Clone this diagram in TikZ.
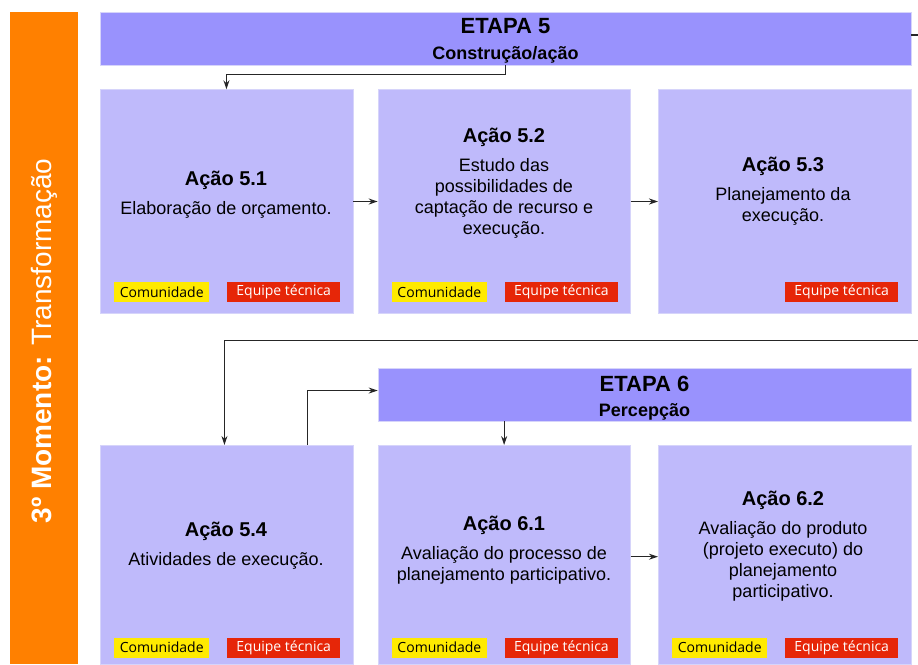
\documentclass[tikz,border=0pt]{standalone}
\usepackage{fontspec}
\setmainfont{Liberation Sans}
\newfontfamily\tagfont{Open Sans}
\usetikzlibrary{arrows.meta}

\definecolor{laranja}{RGB}{255,128,0}
\definecolor{etapacor}{RGB}{153,146,253}
\definecolor{acaocor}{RGB}{191,186,251}
\definecolor{bordacor}{RGB}{214,212,250}
\definecolor{amarelo}{RGB}{255,234,0}
\definecolor{vermelho}{RGB}{230,38,8}

\tikzset{
  etapa/.style={fill=etapacor,draw=bordacor,inner sep=0,anchor=north west},
  acao/.style={fill=acaocor,draw=bordacor,inner sep=0,anchor=north west},
  texto/.style={align=center,inner sep=0,font=\fontsize{18}{21}\selectfont},
  comun/.style={fill=amarelo,text=black,inner sep=0,anchor=north west,
    minimum width=95pt,minimum height=20pt,font=\tagfont\fontsize{14}{16}\selectfont},
  equipe/.style={fill=vermelho,text=white,inner sep=0,anchor=north west,
    minimum width=113pt,minimum height=20pt,font=\tagfont\fontsize{14}{16}\selectfont},
  seta/.style={-{Stealth[length=9pt,width=6pt]},line width=1.2pt,draw=black!85}
}

\begin{document}
\begin{tikzpicture}[x=1pt,y=-1pt]
    \pgfmathsetmacro{\boxw}{252.5}
    \pgfmathsetmacro{\boxh}{224}
    \pgfmathsetmacro{\boxhb}{219}
    \providecommand{\titulofonte}{\fontsize{20}{24}\selectfont\bfseries}
    \providecommand{\etapafonte}{\fontsize{22}{26}\selectfont\bfseries}
    \useasboundingbox (0,0) rectangle (918,664);
    % faixa do momento
    \fill[laranja] (10,11.7) rectangle (78.3,664);
    \node[rotate=90,text=white,inner sep=0,font=\fontsize{28}{32}\selectfont] (momento) at (44,341)
      {\textbf{3º Momento:} Transformação};
    % etapa 5
    \node[etapa,minimum width=811pt,minimum height=53.3pt] (e5) at (100,11.7) {};
    \node[texto,font=\fontsize{18}{21}\selectfont\bfseries] (te5) at (505.5,41)
      {{\etapafonte ETAPA 5}\\[5pt] Construção/ação};
    \node[acao,minimum width=\boxw pt,minimum height=\boxh pt] (a51) at (100,89.3) {};
    \node[acao,minimum width=\boxw pt,minimum height=\boxh pt] (a52) at (377.7,89.3) {};
    \node[acao,minimum width=\boxw pt,minimum height=\boxh pt] (a53) at (658,89.3) {};
    \node[texto] (t51) at (226,195) {{\titulofonte Ação 5.1}\\[8pt] Elaboração de orçamento.};
    \node[texto] (t52) at (504,183) {{\titulofonte Ação 5.2}\\[8pt] Estudo das\\ possibilidades de\\ captação de recurso e\\ execução.};
    \node[texto] (t53) at (783,191) {{\titulofonte Ação 5.3}\\[8pt] Planejamento da\\ execução.};
    % etapa 6
    \node[etapa,minimum width=533pt,minimum height=53.3pt] (e6) at (377.7,367.7) {};
    \node[texto,font=\fontsize{18}{21}\selectfont\bfseries] (te6) at (644.5,398)
      {{\etapafonte ETAPA 6}\\[4pt] Percepção};
    \node[acao,minimum width=\boxw pt,minimum height=\boxhb pt] (a54) at (100,445) {};
    \node[acao,minimum width=\boxw pt,minimum height=\boxhb pt] (a61) at (377.7,445) {};
    \node[acao,minimum width=\boxw pt,minimum height=\boxhb pt] (a62) at (658,445) {};
    \node[texto] (t54) at (226,546) {{\titulofonte Ação 5.4}\\[8pt] Atividades de execução.};
    \node[texto] (t61) at (504,550) {{\titulofonte Ação 6.1}\\[8pt] Avaliação do processo de\\ planejamento participativo.};
    \node[texto] (t62) at (783,546) {{\titulofonte Ação 6.2}\\[8pt] Avaliação do produto\\ (projeto executo) do\\ planejamento\\ participativo.};
    % responsaveis
    \foreach \b in {a51,a52,a54,a61,a62}
      \node[comun] (c\b) at ([shift={(14,192.4)}]\b.north west) {Comunidade};
    \foreach \b in {a51,a52,a53,a54,a61,a62}
      \node[equipe] (q\b) at ([shift={(127,192.4)}]\b.north west) {Equipe técnica};
    % ligacoes
    \coordinate (saida5) at (918,35);
    \coordinate (entra54) at (918,340.7);
    \draw[seta] (e5.south) -- ++(0,9) -| (a51.north);
    \draw[seta] (a51.east) -- (a52.west);
    \draw[seta] (a52.east) -- (a53.west);
    \draw[line width=1.2pt,draw=black!85] (saida5 -| e5.east) -- (saida5);
    \draw[seta] (entra54) -| ([xshift=-2]a54.north);
    \draw[seta] ([xshift=81]a54.north) |- ([yshift=4]e6.west);
    \draw[seta] (e6.south -| a61.north) -- (a61.north);
    \draw[seta] ([yshift=-2]a61.east) -- ([yshift=-2]a62.west);
\end{tikzpicture}
\end{document}
